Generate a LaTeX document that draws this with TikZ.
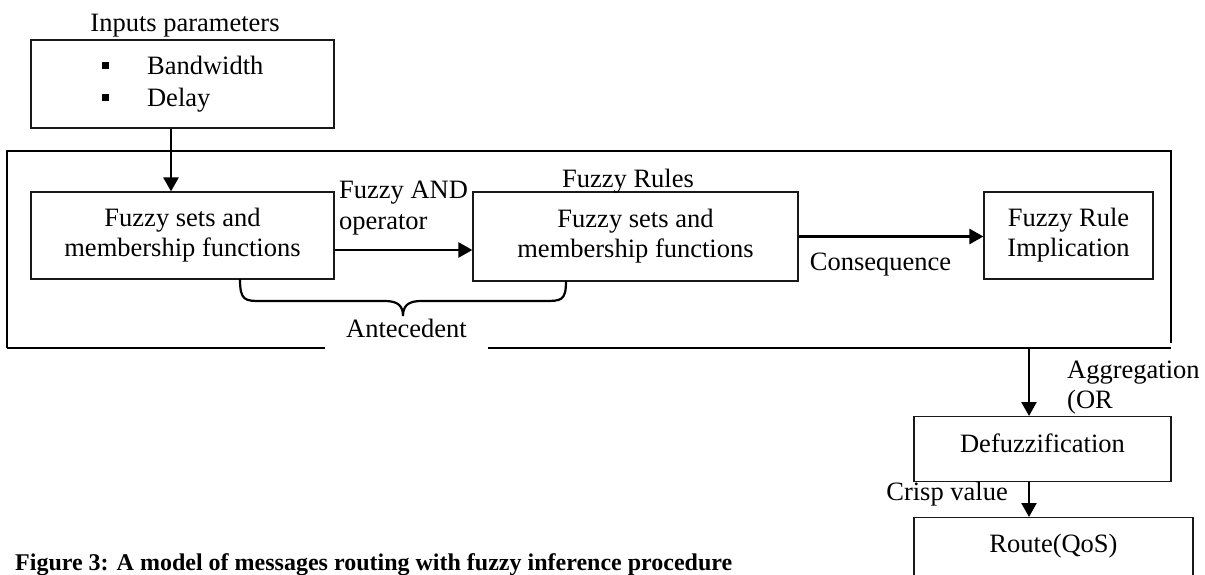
\documentclass[tikz,border=0pt]{standalone}
\usepackage{fontspec}
\setmainfont{Liberation Serif}
\usetikzlibrary{arrows.meta}
\usetikzlibrary{positioning}
\definecolor{qqqqqq}{rgb}{0.1,0.1,0.1}
\tikzset{
  fuzzybox/.style={draw=qqqqqq, line width=1.2pt, align=center, inner sep=0pt},
  flow/.style={->, line width=2.6pt},
  lbl/.style={inner sep=0pt}
}
\begin{document}
\begin{tikzpicture}[line join=miter,>={Triangle[length=14pt,width=15pt]},x=1pt,y=-1pt,font=\fontsize{26.5}{30}\selectfont]
\useasboundingbox (0,0) rectangle (1205,575);
% outer frame
\draw [line width=1.5pt] (7,348) -- (7,151) -- (1171,151) -- (1171,343);
\draw [line width=1.5pt] (7,348) -- (1171,348);
% boxes
\node [fuzzybox, minimum width=303pt, minimum height=88pt, align=left, font=\fontsize{26.5}{32}\selectfont] (inputs) at (182.5,84) {\raisebox{5.5pt}{\rule{7pt}{7pt}}\hspace{38.5pt}Bandwidth\\\raisebox{5.5pt}{\rule{7pt}{7pt}}\hspace{38.5pt}Delay};
\node [fuzzybox, minimum width=303pt, minimum height=87pt] (setsA) at (182.5,235.5) {Fuzzy sets and\\membership functions};
\node [fuzzybox, minimum width=325pt, minimum height=89pt] (setsB) at (635.5,236.5) {Fuzzy sets and\\membership functions};
\node [fuzzybox, minimum width=169pt, minimum height=87pt] (implic) at (1068.5,235.5) {Fuzzy Rule\\Implication};
\node [fuzzybox, minimum width=257pt, text height=17pt, text depth=10pt, inner ysep=19pt, anchor=north] (defuzz) at (1042.5,416) {Defuzzification};
\node [fuzzybox, minimum width=279pt, text height=17pt, text depth=50pt, inner ysep=18pt, anchor=north] (route) at (1053.5,517) {Route(QoS)};
% labels
\node [lbl, anchor=base] (inlabel) at (185,32) {Inputs parameters};
\node [lbl, anchor=base west] (andop) at (339,198) {Fuzzy AND};
\node [lbl, anchor=base west] (oper) at (339,229) {operator};
\node [lbl, anchor=base] (rules) at (628,187) {Fuzzy Rules};
\node [lbl, anchor=base] (conseq) at (880.5,270) {Consequence};
\node [lbl, anchor=base west] (aggr) at (1067,378) {Aggregation};
\node [lbl, anchor=base west] (aggor) at (1067,408) {(OR};
\node [lbl, anchor=base east] (crisp) at (1008,500) {Crisp value};
\node [fill=white, anchor=base, minimum width=163pt, text height=17pt, text depth=10pt, inner xsep=0pt, inner ysep=2pt] (antec) at (406.5,337) {Antecedent};
% arrows
\draw [flow] ([xshift=-11.5pt]inputs.south) -- ([xshift=-11.5pt]setsA.north);
\draw [flow] ([yshift=-14.5pt]setsA.east) -- ([yshift=-14.5pt]setsA.east -| setsB.west);
\draw [flow] (setsB.east) -- (setsB.east -| implic.west);
\coordinate (aggtop) at (1029,348);
\draw [flow] (aggtop) -- (aggtop |- defuzz.north);
\draw [flow] ([xshift=-13.5pt]defuzz.south) -- ([xshift=-13.5pt]defuzz.south |- route.north);
% antecedent brace
\draw [line width=2.2pt] (240,279) .. controls (240,301) and (245,301) .. (262,301) -- (385,301) .. controls (398,301) and (403,306) .. (403,316) .. controls (403,306) and (408,301) .. (421,301) -- (544,301) .. controls (561,301) and (566,301) .. (566,281);
\node [lbl, anchor=base west, font=\fontsize{24}{28}\selectfont\bfseries] (caption) at (15,570) {Figure 3: A model of messages routing with fuzzy inference procedure};
\end{tikzpicture}
\end{document}
